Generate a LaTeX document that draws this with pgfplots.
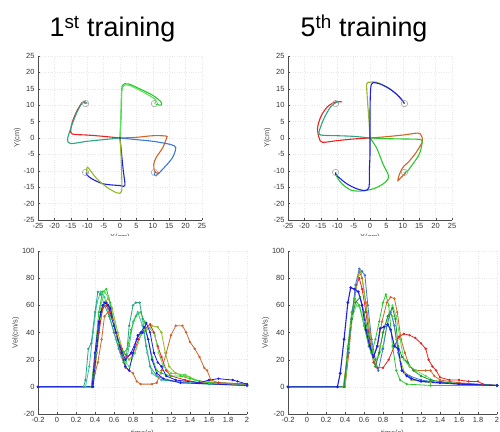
\documentclass[border=0pt]{standalone}
\usepackage{pgfplots}
\pgfplotsset{compat=1.18}
\usepackage{fontspec}
\setmainfont{Liberation Sans}
\definecolor{cR}{RGB}{235,35,35}
\definecolor{cG}{RGB}{40,200,40}
\definecolor{cLG}{RGB}{90,225,90}
\definecolor{cDG}{RGB}{30,150,50}
\definecolor{cB}{RGB}{30,30,235}
\definecolor{cSB}{RGB}{60,120,215}
\definecolor{cO}{RGB}{210,100,40}
\definecolor{cT}{RGB}{40,165,130}
\definecolor{cC}{RGB}{60,190,170}
\definecolor{cOl}{RGB}{145,185,40}
\pgfplotsset{
  base/.style={scale only axis, axis x line*=bottom, axis y line*=left,
    tick align=inside, major tick length=2bp,
    ticklabel style={font=\fontsize{7.5}{8}\selectfont, text=black!80},
    /pgf/number format/assume math mode=true,
    grid=major, grid style={dotted, gray!18, line width=0.4pt},
    axis line style={gray!60!black, line width=0.5pt}, tick style={gray!60!black},
    label style={font=\fontsize{7.5}{8}\selectfont, text=black!70}},
  traj/.style={base, width=164bp, height=164bp, xmin=-25, xmax=25, ymin=-25, ymax=25,
    xtick={-25,-20,...,25}, ytick={-25,-20,...,25}, xlabel={X(cm)}, ylabel={Y(cm)},
    ylabel style={yshift=-4bp}, xlabel style={yshift=2bp}},
  tr/.style={line width=1.1pt, no marks},
  vel/.style={base, width=209bp, height=163bp, xmin=-0.2, xmax=2, ymin=-20, ymax=100,
    xtick={-0.2,0,...,2}, ytick={-20,0,...,100}, xlabel={time(s)}, ylabel={Vel(cm/s)},
    ylabel style={yshift=-4bp},
    xticklabels={-0.2,0,0.2,0.4,0.6,0.8,1,1.2,1.4,1.6,1.8,2}},
  vl/.style={line width=0.8pt, mark=*, mark size=0.75pt},
  targets/.style={only marks, mark=o, mark size=3.2pt, gray!70, line width=0.6pt}
}
\begin{document}
\begin{tikzpicture}
\path[use as bounding box] (0bp,0bp) rectangle (500bp,432bp);
\node[anchor=base, inner sep=0] at (112.5bp,395bp) {\fontsize{27}{30}\selectfont 1\textsuperscript{st} training};
\node[anchor=base, inner sep=0] at (364bp,395bp) {\fontsize{27}{30}\selectfont 5\textsuperscript{th} training};
% ---------- top-left trajectories ----------
\begin{axis}[traj, at={(38bp,212bp)}, anchor=south west]
\addplot[tr, cR, smooth] coordinates {(0,0)(-5,0.5)(-10,0.9)(-14.5,1.2)(-15,2.5)(-14.5,5)(-13,8.5)(-11.5,10.8)(-10.5,10.5)};
\addplot[tr, cT, smooth] coordinates {(0,0)(-5,-0.5)(-10,-1)(-15,-1.7)(-16,-0.5)(-15,3)(-13.5,7)(-12,10)(-11,11.2)(-10,10.5)};
\addplot[tr, cG, smooth] coordinates {(0,0)(0.3,6)(0.5,12)(0.7,16)(2.5,16.5)(6,15)(10,13)(12.5,11)(12.5,10)(11,10.3)};
\addplot[tr, cLG, smooth] coordinates {(0,0)(0.3,8)(0.5,14)(1.2,16)(3,16)(8,13.5)(11,11.5)(10.5,10.5)};
\addplot[tr, cO, smooth] coordinates {(0,0)(5,0.2)(10,0.7)(14,0.6)(14.2,0)(13,-3)(11,-6)(10.3,-8)(10.5,-10)(11.5,-10.8)(12,-10.5)};
\addplot[tr, cSB, smooth] coordinates {(0,0)(5,-0.5)(10,-1)(15.5,-2)(17,-3)(16,-6)(13.5,-9)(11,-11.5)(10.5,-11)(10.8,-10.3)};
\addplot[tr, cB, smooth] coordinates {(0,0)(0.5,-5)(1,-10)(1.5,-14.5)(0,-14.5)(-5,-14)(-8.5,-12.5)(-10,-11.3)(-10.3,-10.5)};
\addplot[tr, cOl, smooth] coordinates {(0,0)(0.3,-5)(0.5,-11)(0.5,-16.3)(-1,-16.7)(-4,-15)(-7,-12.5)(-9.5,-9.3)(-10,-8.9)(-10.2,-9.5)(-10,-11)};
\addplot[targets] coordinates {(-10.5,10.5)(10.5,10.5)(-10.5,-10.5)(10.5,-10.5)};
\addplot[only marks, mark=*, mark size=1pt, black!70] coordinates {(0,0)};
\end{axis}
% ---------- top-right trajectories ----------
\begin{axis}[traj, at={(288bp,212bp)}, anchor=south west]
\addplot[tr, cR, smooth] coordinates {(0,0)(-5,-0.3)(-10,-0.8)(-14.5,-1.3)(-15.5,0)(-16,3)(-15,6.5)(-13,9.5)(-10.5,11)(-8.5,11)};
\addplot[tr, cT, smooth] coordinates {(0,0)(-5,0.5)(-10,0.7)(-15,0.9)(-15.5,2)(-14,6)(-12,9.5)(-10,11)(-9.5,10.5)};
\addplot[tr, cOl, smooth] coordinates {(0,0)(-0.3,5)(-0.8,12)(-1,16.5)(0,17)(2,17)(5,15.5)(8,13.5)(10.5,10.5)};
\addplot[tr, cB, smooth] coordinates {(0,0)(0,8)(0.2,15)(0.8,16.8)(3,16.5)(6,15)(9,12.5)(10.5,10.5)};
\addplot[tr, cO, smooth] coordinates {(0,0)(5,0.4)(10,0.9)(14.5,1.5)(15.5,1)(16,-1)(14,-4.5)(12,-7)(10,-9)(9,-11)(8.5,-13)(9.5,-12)(11,-10.5)};
\addplot[tr, cG, smooth] coordinates {(0,0)(5,-0.2)(10,-0.3)(15.5,-0.5)(15.8,-2)(15,-5)(13,-8)(11.5,-10)(10.5,-10.5)};
\addplot[tr, cG, smooth] coordinates {(0,0)(2,-3)(4,-8)(5.5,-11)(5.5,-12.5)(4,-14)(1,-15.5)(-3,-16.2)(-6,-15.8)(-8.5,-14)(-10,-12)(-10.5,-10.5)};
\addplot[tr, cB, smooth] coordinates {(0,0)(0,-5)(-0.2,-10)(-0.3,-15)(-1.5,-16)(-4,-15.5)(-7,-14)(-9.5,-12)(-10.5,-11)(-10.5,-10.5)};
\addplot[targets] coordinates {(-10.5,10.5)(10.5,10.5)(-10.5,-10.5)(10.5,-10.5)};
\addplot[only marks, mark=*, mark size=1pt, black!70] coordinates {(0,0)};
\end{axis}
\fill[white] (0bp,0bp) rectangle (500bp,196bp);
% ---------- bottom-left velocities ----------
\begin{axis}[vel, at={(38bp,18bp)}, anchor=south west]
\addplot[vl, cC] coordinates {(-0.2,0)(0.3,0)(0.34,15)(0.38,40)(0.42,62)(0.46,70)(0.5,66)(0.56,50)(0.62,35)(0.68,22)(0.72,15)(0.76,30)(0.8,48)(0.85,55)(0.9,45)(0.95,25)(1.0,10)(1.1,5)(1.4,3)(2,1)};
\addplot[vl, cT] coordinates {(-0.2,0)(0.28,0)(0.3,5)(0.33,28)(0.36,32)(0.4,55)(0.43,70)(0.46,68)(0.5,60)(0.55,52)(0.6,40)(0.65,28)(0.7,18)(0.73,22)(0.76,45)(0.8,60)(0.83,62)(0.87,62)(0.9,50)(0.94,30)(0.98,15)(1.05,8)(1.15,5)(1.3,3)(1.6,2)(2,1)};
\addplot[vl, cO] coordinates {(-0.2,0)(0.37,0)(0.4,10)(0.43,18)(0.47,35)(0.5,52)(0.54,55)(0.58,50)(0.63,38)(0.67,25)(0.72,14)(0.76,12)(0.8,10)(0.84,4)(0.88,2)(1.0,2)(1.05,3)(1.1,12)(1.15,25)(1.2,38)(1.25,45)(1.32,45)(1.36,40)(1.4,33)(1.45,28)(1.5,22)(1.55,14)(1.58,12)(1.62,5)(1.7,3)(1.85,2)(2,2)};
\addplot[vl, cOl] coordinates {(-0.2,0)(0.38,0)(0.42,25)(0.46,50)(0.5,62)(0.54,65)(0.58,58)(0.64,40)(0.7,25)(0.76,20)(0.82,25)(0.88,38)(0.94,42)(1.0,45)(1.06,44)(1.1,40)(1.14,25)(1.18,15)(1.25,10)(1.35,8)(1.4,7)(1.5,4)(2,2)};
\addplot[vl, cR] coordinates {(-0.2,0)(0.37,0)(0.4,20)(0.44,40)(0.48,58)(0.52,60)(0.56,55)(0.62,40)(0.68,28)(0.74,22)(0.8,25)(0.86,35)(0.92,42)(0.98,46)(1.02,40)(1.06,30)(1.1,22)(1.15,12)(1.2,8)(1.35,5)(1.5,3)(1.7,3)(2,2)};
\addplot[vl, cLG] coordinates {(-0.2,0)(0.38,0)(0.42,30)(0.46,60)(0.5,70)(0.54,66)(0.6,48)(0.66,30)(0.72,18)(0.76,15)(0.82,25)(0.88,38)(0.92,42)(0.98,43)(1.03,38)(1.07,25)(1.12,15)(1.2,10)(1.35,9)(1.45,5)(1.6,3)(2,1)};
\addplot[vl, cG] coordinates {(-0.2,0)(0.36,0)(0.4,25)(0.44,55)(0.48,70)(0.52,72)(0.56,62)(0.6,45)(0.65,32)(0.7,25)(0.74,28)(0.78,42)(0.83,52)(0.88,55)(0.92,48)(0.96,35)(1.0,22)(1.05,12)(1.1,10)(1.2,8)(1.3,8)(1.4,6)(1.6,3)(2,2)};
\addplot[vl, cB] coordinates {(-0.2,0)(0.38,0)(0.42,30)(0.46,55)(0.5,62)(0.54,60)(0.6,45)(0.66,30)(0.72,20)(0.78,25)(0.84,35)(0.88,40)(0.92,44)(0.96,35)(1.0,20)(1.05,10)(1.12,6)(1.3,3)(2,1)};
\addplot[vl, cB] coordinates {(-0.2,0)(0.37,0)(0.4,25)(0.44,48)(0.48,60)(0.52,62)(0.56,58)(0.62,40)(0.68,25)(0.72,15)(0.76,12)(0.8,25)(0.85,38)(0.9,40)(0.94,47)(0.98,40)(1.02,25)(1.06,18)(1.1,15)(1.15,8)(1.25,5)(1.5,3)(1.6,5)(1.7,6)(1.85,5)(1.9,4)(2,2)};
\end{axis}
% ---------- bottom-right velocities ----------
\begin{axis}[vel, at={(288bp,18bp)}, anchor=south west]
\addplot[vl, cR] coordinates {(-0.2,0)(0.4,0)(0.44,25)(0.48,55)(0.52,75)(0.55,80)(0.58,72)(0.62,55)(0.66,35)(0.7,18)(0.74,14)(0.8,14)(0.86,20)(0.92,30)(0.97,37)(1.02,39)(1.08,38)(1.14,36)(1.2,32)(1.25,28)(1.28,20)(1.32,15)(1.36,12)(1.4,7)(1.5,5)(1.6,5)(1.7,4)(1.8,4)(1.85,2)(2,1)};
\addplot[vl, cO] coordinates {(-0.2,0)(0.39,0)(0.43,25)(0.47,50)(0.51,70)(0.55,85)(0.58,80)(0.62,62)(0.66,40)(0.7,22)(0.74,30)(0.79,48)(0.84,62)(0.88,66)(0.92,65)(0.95,55)(0.99,35)(1.03,25)(1.08,15)(1.14,12)(1.25,12)(1.3,12)(1.34,8)(1.4,5)(1.6,3)(2,1)};
\addplot[vl, cOl] coordinates {(-0.2,0)(0.38,0)(0.42,20)(0.46,45)(0.5,65)(0.54,82)(0.57,85)(0.6,70)(0.64,50)(0.68,30)(0.72,15)(0.77,30)(0.82,45)(0.87,55)(0.9,52)(0.94,35)(0.98,20)(1.03,10)(1.1,5)(1.3,3)(2,1)};
\addplot[vl, cLG] coordinates {(-0.2,0)(0.4,0)(0.44,30)(0.48,52)(0.52,60)(0.56,58)(0.6,48)(0.65,30)(0.7,20)(0.75,22)(0.8,30)(0.85,48)(0.9,60)(0.94,52)(0.98,35)(1.02,20)(1.08,15)(1.15,12)(1.25,8)(1.35,4)(1.6,2)(2,1)};
\addplot[vl, cG] coordinates {(-0.2,0)(0.39,0)(0.43,30)(0.47,55)(0.5,65)(0.55,60)(0.6,45)(0.65,30)(0.68,25)(0.72,35)(0.76,48)(0.8,62)(0.83,68)(0.86,60)(0.9,30)(0.94,12)(0.98,5)(1.05,2)(1.3,1)(2,1)};
\addplot[vl, cSB] coordinates {(-0.2,0)(0.39,0)(0.43,25)(0.47,50)(0.51,75)(0.55,87)(0.58,85)(0.61,82)(0.64,60)(0.68,35)(0.72,20)(0.75,12)(0.8,28)(0.84,45)(0.88,55)(0.92,45)(0.96,25)(1.0,12)(1.08,8)(1.2,5)(1.4,3)(2,1)};
\addplot[vl, cDG] coordinates {(-0.2,0)(0.39,0)(0.43,28)(0.47,50)(0.51,62)(0.56,66)(0.6,55)(0.64,40)(0.68,25)(0.72,15)(0.76,25)(0.8,40)(0.85,52)(0.9,58)(0.93,50)(0.96,30)(1.0,22)(1.06,18)(1.12,12)(1.2,8)(1.3,5)(1.5,3)(2,1)};
\addplot[vl, cB, line width=1.1pt] coordinates {(-0.2,0)(0.32,0)(0.35,10)(0.39,35)(0.43,62)(0.46,73)(0.5,72)(0.54,70)(0.58,60)(0.62,42)(0.66,30)(0.7,22)(0.74,30)(0.77,43)(0.81,44)(0.85,46)(0.88,42)(0.92,30)(0.96,28)(1.0,12)(1.05,8)(1.1,6)(1.2,4)(1.4,3)(1.6,2)(2,1)};
\end{axis}
\end{tikzpicture}
\end{document}
